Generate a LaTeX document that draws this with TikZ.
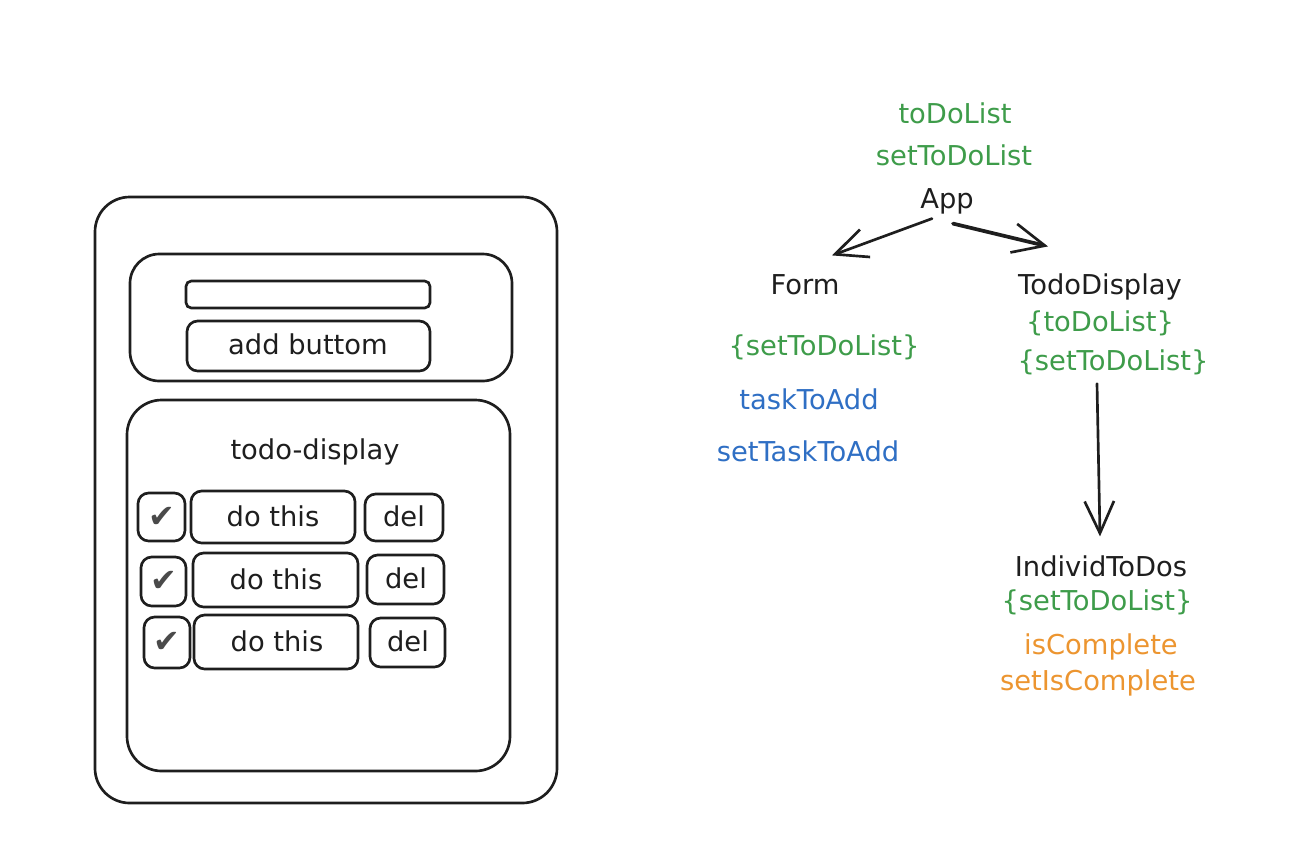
\documentclass[tikz,border=0pt]{standalone}
\usepackage{fontspec}
\setmainfont{DejaVu Sans}
\usetikzlibrary{fit,arrows.meta}
\definecolor{ink}{HTML}{1E1E1E}
\definecolor{pgreen}{HTML}{3E9C4A}
\definecolor{pblue}{HTML}{2F6FC4}
\definecolor{porange}{HTML}{EC9530}
\definecolor{chk}{HTML}{4A4A4A}
\tikzset{
  frame/.style={draw=ink, line width=2pt, inner sep=0pt},
  big/.style={frame, rounded corners=26pt},
  mid/.style={frame, rounded corners=22pt},
  btn/.style={frame, rounded corners=8pt},
  small/.style={frame, rounded corners=4pt},
  lbl/.style={inner sep=0pt, text height=17pt, text depth=3pt, font=\fontsize{20.5}{24}\selectfont, text=ink},
  gl/.style={lbl, text=pgreen},
  bl/.style={lbl, text=pblue},
  ol/.style={lbl, text=porange},
  arr/.style={draw=ink, line width=2pt, line cap=round, -{Straight Barb[length=24pt, width=22pt, line width=2pt]}},
  chkmark/.style={inner sep=0pt, text=chk, font=\fontsize{24}{24}\selectfont\bfseries},
}
\begin{document}
\begin{tikzpicture}[x=0.75pt, y=-0.75pt]
\useasboundingbox (0,0) rectangle (1306,840);
% phone mockup
\node[big, fit={(95,197) (557,803)}] (outer) {};
\node[mid, fit={(130,254) (512,381)}] (formpanel) {};
\node[small, fit={(186,281) (430,308)}] (input) {};
\node[btn, fit={(187,321) (430,371)}] (addbtn) {};
\node[lbl] (addtxt) at (308,345) {add buttom};
\node[big, fit={(127,400) (510,771)}] (displaypanel) {};
\node[lbl] (disptitle) at (315,450) {todo-display};
% rows
\node[btn, fit={(138,493) (185,541)}] (cb1) {};
\node[btn, fit={(191,491) (355,543)}] (t1) {};
\node[btn, fit={(365,494) (443,541)}] (d1) {};
\node[btn, fit={(141,557) (186,606)}] (cb2) {};
\node[btn, fit={(193,553) (358,607)}] (t2) {};
\node[btn, fit={(367,555) (444,604)}] (d2) {};
\node[btn, fit={(144,617) (190,668)}] (cb3) {};
\node[btn, fit={(194,615) (358,669)}] (t3) {};
\node[btn, fit={(370,618) (445,667)}] (d3) {};
\node[chkmark] (c1) at (cb1) {✔};
\node[chkmark] (c2) at (cb2) {✔};
\node[chkmark] (c3) at (cb3) {✔};
\node[lbl] (t1l) at (273,517) {do this};
\node[lbl] (t2l) at (276,580) {do this};
\node[lbl] (t3l) at (277,642) {do this};
\node[lbl] (d1l) at (404,517) {del};
\node[lbl] (d2l) at (406,579) {del};
\node[lbl] (d3l) at (408,642) {del};
% component tree
\node[gl] (appstate) at (955,114) {toDoList};
\node[gl] (appset) at (954,156) {setToDoList};
\node[lbl] (app) at (947,199) {App};
\node[lbl] (form) at (805,285) {Form};
\node[lbl] (todo) at (1100,285) {TodoDisplay};
\node[gl] (formprop) at (824,346) {\{setToDoList\}};
\node[bl] (formstate) at (809,400) {taskToAdd};
\node[bl] (formset) at (808,452) {setTaskToAdd};
\node[gl] (tdlist) at (1100,322) {\{toDoList\}};
\node[gl] (tdset) at (1113,361) {\{setToDoList\}};
\node[lbl] (indiv) at (1101,567) {IndividToDos};
\node[gl] (indivprop) at (1097,601) {\{setToDoList\}};
\node[ol] (indivstate) at (1101,645) {isComplete};
\node[ol] (indivset) at (1098,681) {setIsComplete};
\draw[arr] ([shift={(-15,6)}]app.south) -- ([shift={(27,-16)}]form.north);
\draw[arr, line width=2.8pt] ([shift={(6,11)}]app.south) -- ([shift={(-52,-25)}]todo.north);
\draw[arr] ([shift={(-16,9)}]tdset.south) -- ([shift={(-1,-17)}]indiv.north);
\end{tikzpicture}
\end{document}
